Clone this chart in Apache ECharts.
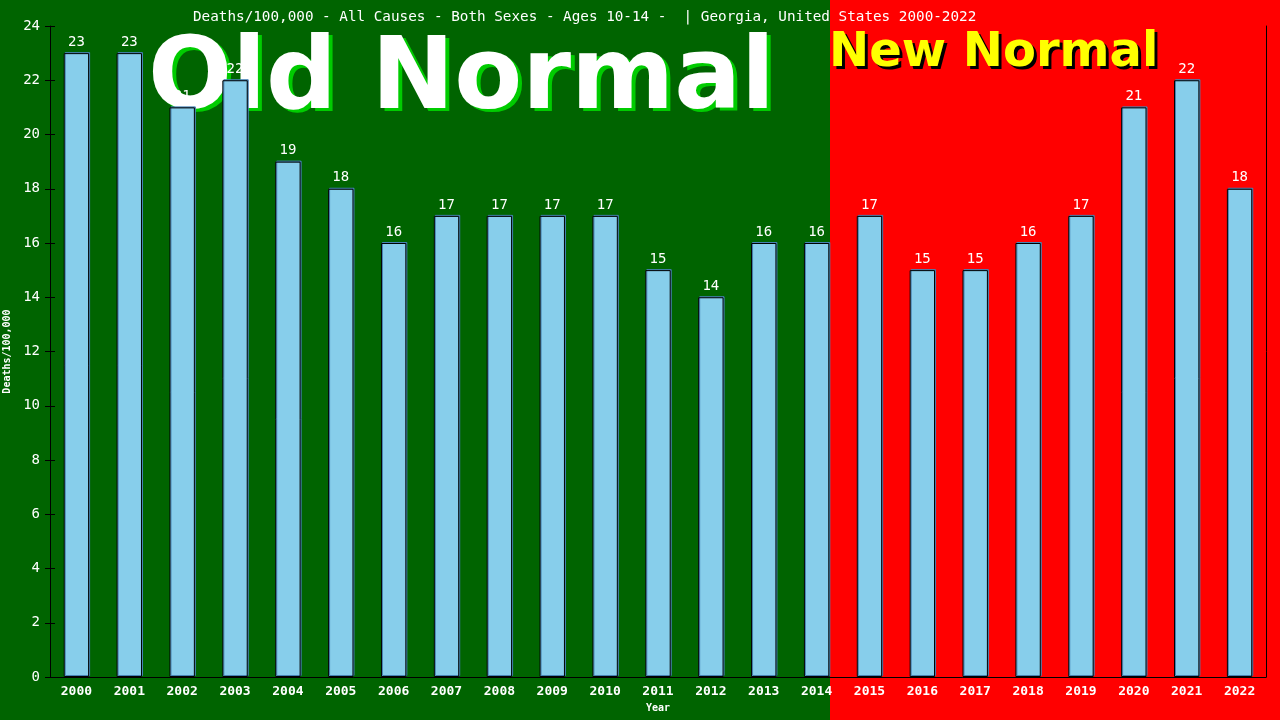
<!DOCTYPE html>
<html><head><meta charset="utf-8">
<script src="https://cdn.jsdelivr.net/npm/echarts@6/dist/echarts.min.js"></script>
<style>html,body{margin:0;padding:0;}#c{width:1280px;height:720px;background:linear-gradient(to right,#006400 0px,#006400 830px,#ff0000 830px,#ff0000 1280px);}</style>
</head><body><div id="c"></div>
<script>
const years = ['2000','2001','2002','2003','2004','2005','2006','2007','2008','2009','2010','2011','2012','2013','2014','2015','2016','2017','2018','2019','2020','2021','2022'];
const deaths = [23,23,21,22,19,18,16,17,17,17,17,15,14,16,16,17,15,15,16,17,21,22,18];
const titleText = 'Deaths/100,000 - All Causes - Both Sexes - Ages 10-14 -  | Georgia, United States 2000-2022';

const chart = echarts.init(document.getElementById('c'));
const mono = 'DejaVu Sans Mono';
const big = (text, left, top, color, size, zl) => ({text, left, top, padding: 0, zlevel: zl, z: 0,
  textStyle:{color, fontFamily:'DejaVu Sans', fontSize: size, fontWeight:'bold', lineHeight: size}});
chart.setOption({
  animation: false,
  backgroundColor: 'transparent',
  title: [
    big('Old Normal', 152, 36, '#00cc00', 99, 0),
    big('Old Normal', 148, 33, '#ffffff', 99, 0),
    big('New Normal', 832, 33, '#000000', 48, 0),
    big('New Normal', 829, 30, '#ffff00', 48, 0),
    {text: titleText, left: 188, top: 5, zlevel: 1,
      textStyle:{color:'#fff', fontFamily: mono, fontSize: 14.3, fontWeight: 'normal'}}
  ],
  grid: {left: 50, right: 14, top: 26, bottom: 43, outerBoundsMode: 'none', containLabel: false},
  xAxis: {type:'category', data: years, name: 'Year', nameLocation:'middle', nameGap: 26, zlevel: 1,
    nameTextStyle:{color:'#fff', fontFamily: mono, fontSize: 10, fontWeight:'bold'},
    axisLine:{lineStyle:{color:'#000'}}, axisTick:{show:false},
    axisLabel:{color:'#fff', fontFamily: mono, fontSize: 13, fontWeight:'bold', margin: 8}},
  yAxis: [{type:'value', min:0, max:24, interval:2, name:'Deaths/100,000', nameLocation:'middle', nameGap: 33, zlevel: 1,
    nameTextStyle:{color:'#fff', fontFamily: mono, fontSize: 10, fontWeight:'bold'},
    axisLine:{show:true, lineStyle:{color:'#000'}}, axisTick:{show:true, length:5, lineStyle:{color:'#000'}},
    splitLine:{show:false},
    axisLabel:{color:'#fff', fontFamily: mono, fontSize: 14, margin: 10}},
    {type:'value', min:0, max:24, interval:2, position:'right', zlevel: 1, axisLine:{show:true, lineStyle:{color:'#000'}},
    axisTick:{show:false}, axisLabel:{show:false}, splitLine:{show:false}},
    {type:'value', min:0, max:24, interval:2, position:'left', offset:0, zlevel: 1, axisLine:{show:false},
    axisTick:{show:true, inside:true, length:5, lineStyle:{color:'#000'}}, axisLabel:{show:false}, splitLine:{show:false}}],
  series: [{type:'bar', data: deaths, barWidth: '48%', zlevel: 1, z: 10,
    itemStyle:{color:'#87ceeb', borderColor:'#000', borderWidth:1,
      shadowColor:'#4682b4', shadowOffsetX:1, shadowOffsetY:-1, shadowBlur:0},
    label:{show:true, position:'top', distance: 4, color:'#fff', fontFamily: mono, fontSize: 14}}]
});
</script></body></html>
